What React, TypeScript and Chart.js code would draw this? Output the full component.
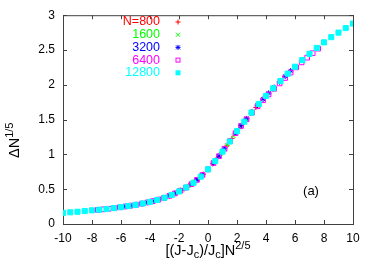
import React, { useEffect, useRef } from "react";
import { Chart, registerables } from "chart.js";

Chart.register(...registerables);

const X_TICKS = [-10, -8, -6, -4, -2, 0, 2, 4, 6, 8, 10];
const Y_TICKS = [0, 0.5, 1, 1.5, 2, 2.5, 3];
const SERIES_LABELS = ["N=800", "1600", "3200", "6400", "12800"];
const SERIES_COLORS = ["#ff0000", "#00ff00", "#0000ff", "#ff00ff", "#00ffff"];
const PANEL_LABEL = "(a)";

const x800 = [-3.3, -2.97, -2.64, -2.31, -1.98, -1.65, -1.32, -0.99, -0.66, -0.33, 0, 0.33, 0.66, 0.99, 1.32, 1.65, 1.98, 2.31, 2.64, 2.97, 3.3];
const y800 = [0.358, 0.38, 0.407, 0.437, 0.47, 0.508, 0.549, 0.594, 0.652, 0.716, 0.785, 0.864, 0.948, 1.037, 1.133, 1.23, 1.329, 1.419, 1.506, 1.592, 1.675];

const x1600 = [-4.4, -3.96, -3.52, -3.08, -2.64, -2.2, -1.76, -1.32, -0.88, -0.44, 0, 0.44, 0.88, 1.32, 1.76, 2.2, 2.64, 3.08, 3.52, 3.96, 4.4];
const y1600 = [0.3, 0.32, 0.344, 0.373, 0.407, 0.448, 0.495, 0.549, 0.613, 0.693, 0.785, 0.891, 1.008, 1.133, 1.263, 1.389, 1.506, 1.62, 1.73, 1.831, 1.928];

const x3200 = [-5.7, -5.32, -4.94, -4.56, -4.18, -3.8, -3.42, -3.04, -2.66, -2.28, -1.9, -1.52, -1.14, -0.76, -0.38, 0, 0.38, 0.76, 1.14, 1.52, 1.9, 2.28, 2.66, 3.04, 3.42, 3.8, 4.18, 4.56, 4.94, 5.32, 5.7];
const y3200 = [0.252, 0.264, 0.277, 0.293, 0.31, 0.329, 0.35, 0.375, 0.405, 0.44, 0.479, 0.523, 0.573, 0.634, 0.705, 0.785, 0.876, 0.975, 1.081, 1.191, 1.305, 1.411, 1.512, 1.61, 1.705, 1.794, 1.88, 1.963, 2.042, 2.122, 2.2];

const x6400 = [-7.6, -7.22, -6.84, -6.46, -6.08, -5.7, -5.32, -4.94, -4.56, -4.18, -3.8, -3.42, -3.04, -2.66, -2.28, -1.9, -1.52, -1.14, -0.76, -0.38, 0, 0.38, 0.76, 1.14, 1.52, 1.9, 2.28, 2.66, 3.04, 3.42, 3.8, 4.18, 4.56, 4.94, 5.32, 5.7, 6.08, 6.46, 6.84, 7.22, 7.6];
const y6400 = [0.203, 0.211, 0.219, 0.229, 0.24, 0.252, 0.264, 0.277, 0.293, 0.31, 0.329, 0.35, 0.375, 0.405, 0.44, 0.479, 0.523, 0.573, 0.634, 0.705, 0.785, 0.876, 0.975, 1.081, 1.191, 1.305, 1.408, 1.505, 1.6, 1.692, 1.778, 1.862, 1.942, 2.02, 2.098, 2.175, 2.25, 2.322, 2.39, 2.455, 2.52];

const x12800 = [-10, -9.5, -9, -8.5, -8, -7.5, -7, -6.5, -6, -5.5, -5, -4.5, -4, -3.5, -3, -2.5, -2, -1.5, -1, -0.5, 0, 0.5, 1, 1.5, 2, 2.5, 3, 3.5, 4, 4.5, 5, 5.5, 6, 6.5, 7, 7.5, 8, 8.5, 9, 9.5, 10];
const y12800 = [0.16, 0.168, 0.176, 0.186, 0.196, 0.205, 0.215, 0.228, 0.242, 0.258, 0.275, 0.295, 0.318, 0.345, 0.378, 0.418, 0.468, 0.525, 0.592, 0.68, 0.785, 0.905, 1.04, 1.185, 1.335, 1.47, 1.6, 1.725, 1.84, 1.95, 2.055, 2.16, 2.26, 2.355, 2.445, 2.53, 2.61, 2.685, 2.75, 2.815, 2.88];

const FONT = "'Liberation Sans', Arial, sans-serif";

const pts = (xs: number[], ys: number[]) => xs.map((x, i) => ({ x, y: ys[i] }));

function drawSymbol(ctx: CanvasRenderingContext2D, kind: number, x: number, y: number, color: string) {
  ctx.save();
  ctx.strokeStyle = color;
  ctx.fillStyle = color;
  ctx.lineWidth = 1;
  ctx.beginPath();
  if (kind === 0) {
    ctx.moveTo(x - 2.5, y); ctx.lineTo(x + 2.5, y);
    ctx.moveTo(x, y - 2.5); ctx.lineTo(x, y + 2.5);
    ctx.stroke();
  } else if (kind === 1) {
    ctx.moveTo(x - 2, y - 2); ctx.lineTo(x + 2, y + 2);
    ctx.moveTo(x - 2, y + 2); ctx.lineTo(x + 2, y - 2);
    ctx.stroke();
  } else if (kind === 2) {
    ctx.moveTo(x - 2.5, y); ctx.lineTo(x + 2.5, y);
    ctx.moveTo(x, y - 2.5); ctx.lineTo(x, y + 2.5);
    ctx.moveTo(x - 2, y - 2); ctx.lineTo(x + 2, y + 2);
    ctx.moveTo(x - 2, y + 2); ctx.lineTo(x + 2, y - 2);
    ctx.stroke();
  } else if (kind === 3) {
    ctx.strokeRect(x - 2, y - 2, 4, 4);
  } else {
    ctx.fillRect(x - 2.5, y - 2.5, 5, 5);
  }
  ctx.restore();
}

type Seg = { t: string; size: number; dy: number };

function drawRich(ctx: CanvasRenderingContext2D, segs: Seg[], x: number, y: number, align: "center" | "left") {
  let total = 0;
  for (const s of segs) {
    ctx.font = `${s.size}px ${FONT}`;
    total += ctx.measureText(s.t).width;
  }
  let cx = align === "center" ? x - total / 2 : x;
  ctx.textAlign = "left";
  ctx.textBaseline = "alphabetic";
  for (const s of segs) {
    ctx.font = `${s.size}px ${FONT}`;
    ctx.fillText(s.t, cx, y + s.dy);
    cx += ctx.measureText(s.t).width;
  }
}

const framePlugin = {
  id: "gnuframe",
  beforeDatasetsDraw(chart: any) {
    const { ctx, chartArea: a, scales } = chart;
    const xs = scales.x;
    const ys = scales.y;
    ctx.save();
    ctx.strokeStyle = "#404040";
    ctx.lineWidth = 1;
    ctx.strokeRect(a.left + 0.5, a.top + 0.5, a.right - a.left, a.bottom - a.top);
    ctx.beginPath();
    for (const t of X_TICKS) {
      const px = Math.round(xs.getPixelForValue(t)) + 0.5;
      ctx.moveTo(px, a.bottom); ctx.lineTo(px, a.bottom - 4);
      ctx.moveTo(px, a.top); ctx.lineTo(px, a.top + 4);
    }
    for (const t of Y_TICKS) {
      const py = Math.round(ys.getPixelForValue(t)) + 0.5;
      ctx.moveTo(a.left, py); ctx.lineTo(a.left + 4, py);
      ctx.moveTo(a.right, py); ctx.lineTo(a.right - 4, py);
    }
    ctx.stroke();
    ctx.restore();
  },
  afterDraw(chart: any) {
    const { ctx } = chart;
    ctx.save();
    // legend
    ctx.font = `12.5px ${FONT}`;
    ctx.textAlign = "right";
    ctx.textBaseline = "middle";
    SERIES_LABELS.forEach((lab, i) => {
      const yy = 22 + i * 12.7;
      ctx.fillStyle = SERIES_COLORS[i];
      ctx.fillText(lab, 160, yy);
      drawSymbol(ctx, i, 178, yy, SERIES_COLORS[i]);
    });
    // panel label
    ctx.fillStyle = "#000";
    ctx.font = `13px ${FONT}`;
    ctx.textAlign = "center";
    ctx.fillText(PANEL_LABEL, 311, 191);
    // x title
    ctx.fillStyle = "#000";
    drawRich(ctx, [
      { t: "[(J-J", size: 14.5, dy: 0 },
      { t: "c", size: 11, dy: 3 },
      { t: ")/J", size: 14.5, dy: 0 },
      { t: "c", size: 11, dy: 3 },
      { t: "]N", size: 14.5, dy: 0 },
      { t: "2/5", size: 11, dy: -6 },
    ], 208, 255, "center");
    // y title
    ctx.translate(19, 158);
    ctx.rotate(-Math.PI / 2);
    drawRich(ctx, [
      { t: "\u0394N", size: 14.5, dy: 0 },
      { t: "1/5", size: 11, dy: -6 },
    ], 0, 0, "left");
    ctx.restore();
  },
};

export default function App() {
  const ref = useRef<HTMLCanvasElement | null>(null);
  useEffect(() => {
    if (!ref.current) return;
    const chart = new Chart(ref.current, {
      type: "scatter",
      data: {
        datasets: [
          { label: SERIES_LABELS[4], data: pts(x12800, y12800), pointStyle: "rect", radius: 3.6, borderWidth: 1, borderColor: SERIES_COLORS[4], backgroundColor: SERIES_COLORS[4] },
          { label: SERIES_LABELS[3], data: pts(x6400, y6400), pointStyle: "rect", radius: 3.3, borderWidth: 1, borderColor: SERIES_COLORS[3], backgroundColor: "rgba(0,0,0,0)" },
          { label: SERIES_LABELS[2], data: pts(x3200, y3200), pointStyle: "star", radius: 2.8, borderWidth: 1, borderColor: SERIES_COLORS[2], backgroundColor: SERIES_COLORS[2] },
          { label: SERIES_LABELS[1], data: pts(x1600, y1600), pointStyle: "crossRot", radius: 2.6, borderWidth: 1, borderColor: SERIES_COLORS[1], backgroundColor: SERIES_COLORS[1] },
          { label: SERIES_LABELS[0], data: pts(x800, y800), pointStyle: "cross", radius: 2.6, borderWidth: 1, borderColor: SERIES_COLORS[0], backgroundColor: SERIES_COLORS[0] },
        ],
      },
      options: {
        responsive: false,
        animation: false,
        events: [],
        layout: { padding: { left: 0, top: 15, right: 21, bottom: 0 } },
        plugins: { legend: { display: false }, tooltip: { enabled: false }, title: { display: false } },
        scales: {
          x: {
            type: "linear",
            min: -10,
            max: 10,
            afterFit: (s: any) => { s.height = 38; },
            afterBuildTicks: (s: any) => { s.ticks = X_TICKS.map((v) => ({ value: v })); },
            grid: { display: false, drawTicks: false },
            border: { display: false },
            ticks: { padding: 7, color: "#000", font: { family: FONT, size: 12 }, maxRotation: 0, autoSkip: false, callback: (v: any) => String(v) },
          },
          y: {
            type: "linear",
            min: 0,
            max: 3,
            afterFit: (s: any) => { s.width = 63; },
            afterBuildTicks: (s: any) => { s.ticks = Y_TICKS.map((v) => ({ value: v })); },
            grid: { display: false, drawTicks: false },
            border: { display: false },
            ticks: { padding: 8, color: "#000", font: { family: FONT, size: 12 }, autoSkip: false, callback: (v: any) => String(v) },
          },
        },
      },
      plugins: [framePlugin],
    });
    return () => chart.destroy();
  }, []);
  return (
    <div style={{ position: "absolute", left: 0, top: 0, width: 374, height: 262, background: "#fff" }}>
      <canvas ref={ref} width={374} height={262} style={{ display: "block" }} />
    </div>
  );
}
